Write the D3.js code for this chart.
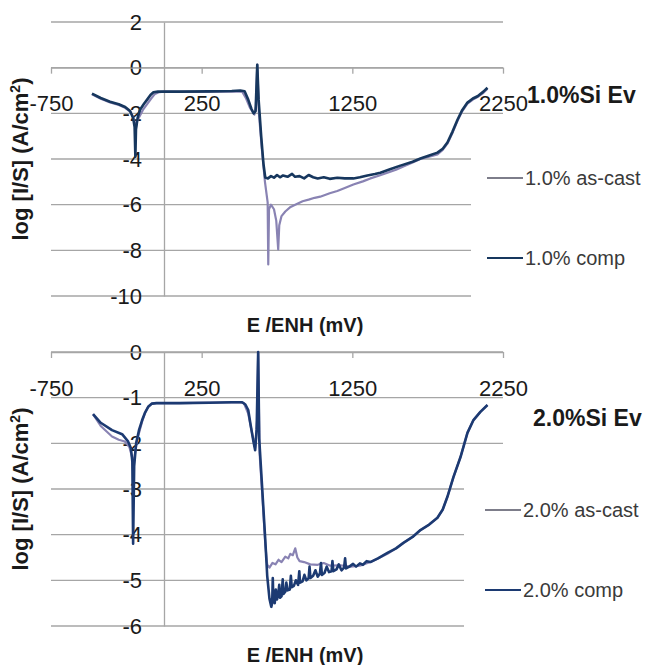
<!doctype html>
<html>
<head>
<meta charset="utf-8">
<style>
  body { margin: 0; background: #fff; }
  svg { font-family: "Liberation Sans", Arial, sans-serif; }
  .grid { stroke: #a6a6a6; stroke-width: 1.3; }
  .axis path, .axis line { stroke: #a6a6a6; stroke-width: 1.3; }
  .axis text { font-size: 22px; fill: #1a1a1a; }
</style>
<script src="https://d3js.org/d3.v7.min.js"></script>
</head>
<body>
<svg width="652" height="665"></svg>
<script>
// E (mV) vs log[I/S]
var xTicks = [-750, 250, 1250, 2250];
var yTicks10 = [2, 0, -2, -4, -6, -8, -10];
var yTicks20 = [0, -1, -2, -3, -4, -5, -6];

var cast10 = [[-478,-1.16],[-420,-1.36],[-358,-1.52],[-300,-1.63],[-258,-1.76],[-225,-1.92],[-205,-2.15],[-195,-2.4],[-188,-2.7],[-180,-2.35],[-160,-2.1],[-140,-1.85],[-112,-1.6],[-85,-1.35],[-60,-1.15],[-30,-1.07],[0,-1.05],[200,-1.06],[400,-1.05],[480,-1.04],[520,-1.06],[545,-1.35],[570,-1.75],[600,-2.05],[610,-1.7],[619,0.13],[630,-2.0],[650,-3.6],[670,-5.0],[688,-5.9],[692,-8.62],[697,-6.2],[710,-6.0],[730,-6.2],[745,-6.7],[758,-7.96],[765,-6.9],[780,-6.5],[805,-6.3],[840,-6.1],[871,-6.0],[920,-5.85],[960,-5.78],[1000,-5.7],[1037,-5.65],[1100,-5.5],[1150,-5.4],[1200,-5.27],[1257,-5.12],[1320,-4.98],[1370,-4.85],[1430,-4.72],[1483,-4.6],[1540,-4.47],[1600,-4.3],[1650,-4.15],[1702,-4.0],[1760,-3.9],[1815,-3.8],[1850,-3.6],[1881,-3.33],[1915,-2.85],[1948,-2.33],[1980,-1.9],[2014,-1.58],[2050,-1.4],[2081,-1.29],[2120,-1.1],[2147,-0.92]];

var comp10 = [[-478,-1.14],[-420,-1.33],[-358,-1.49],[-300,-1.6],[-258,-1.72],[-225,-1.9],[-205,-2.2],[-195,-2.6],[-190,-3.9],[-186,-2.7],[-175,-2.2],[-159,-1.84],[-135,-1.6],[-112,-1.4],[-90,-1.2],[-70,-1.08],[-40,-1.05],[100,-1.05],[300,-1.04],[450,-1.02],[506,-1.0],[535,-1.03],[559,-1.4],[580,-1.8],[595,-2.0],[608,-1.9],[619,0.13],[628,-1.4],[645,-3.0],[660,-4.2],[672,-4.81],[690,-4.85],[710,-4.75],[730,-4.82],[750,-4.7],[770,-4.8],[790,-4.72],[820,-4.78],[850,-4.65],[870,-4.78],[900,-4.75],[930,-4.85],[960,-4.7],[990,-4.8],[1020,-4.85],[1060,-4.8],[1100,-4.87],[1150,-4.82],[1200,-4.85],[1257,-4.85],[1300,-4.8],[1350,-4.72],[1400,-4.66],[1436,-4.6],[1500,-4.45],[1569,-4.29],[1650,-4.12],[1702,-3.98],[1760,-3.85],[1815,-3.72],[1850,-3.55],[1881,-3.28],[1915,-2.8],[1948,-2.28],[1980,-1.85],[2014,-1.53],[2050,-1.35],[2081,-1.25],[2120,-1.05],[2147,-0.88]];

var cast20 = [[-471,-1.36],[-420,-1.62],[-345,-1.85],[-300,-1.92],[-260,-1.96],[-230,-2.08],[-212,-2.3],[-206,-2.6],[-198,-2.35],[-180,-1.95],[-160,-1.7],[-145,-1.52],[-125,-1.33],[-105,-1.2],[-80,-1.13],[-50,-1.12],[100,-1.12],[300,-1.11],[500,-1.1],[530,-1.12],[559,-1.35],[592,-1.9],[605,-2.1],[618,-1.5],[625,-0.02],[634,-2.2],[652,-3.1],[672,-4.2],[685,-4.66],[700,-4.72],[720,-4.62],[740,-4.65],[760,-4.55],[780,-4.6],[805,-4.48],[825,-4.52],[838,-4.42],[855,-4.45],[871,-4.3],[885,-4.5],[900,-4.58],[930,-4.6],[971,-4.65],[1020,-4.66],[1060,-4.62],[1104,-4.68],[1170,-4.67],[1237,-4.7],[1300,-4.68],[1370,-4.6],[1420,-4.52],[1483,-4.42],[1540,-4.3],[1589,-4.18],[1650,-4.05],[1702,-3.9],[1760,-3.78],[1815,-3.63],[1850,-3.45],[1881,-3.17],[1921,-2.74],[1968,-2.3],[2014,-1.77],[2054,-1.49],[2100,-1.31],[2147,-1.16]];

var comp20 = [[-471,-1.36],[-420,-1.55],[-345,-1.71],[-278,-1.8],[-240,-1.95],[-220,-2.1],[-210,-2.4],[-205,-4.2],[-198,-2.5],[-185,-2.0],[-165,-1.7],[-145,-1.49],[-125,-1.32],[-105,-1.2],[-80,-1.13],[-50,-1.12],[100,-1.12],[300,-1.11],[450,-1.1],[519,-1.1],[540,-1.15],[559,-1.27],[575,-1.6],[592,-1.93],[605,-2.15],[615,-1.7],[625,0.0],[632,-1.9],[652,-3.0],[672,-4.1],[685,-4.9],[700,-5.4],[712,-5.58],[718,-5.5],[722,-4.95],[726,-5.45],[735,-5.5],[742,-5.2],[750,-5.42],[758,-5.3],[765,-5.1],[770,-5.38],[780,-5.35],[788,-4.98],[792,-5.3],[805,-5.25],[812,-5.05],[820,-5.22],[835,-5.2],[842,-4.9],[848,-5.15],[862,-5.12],[875,-5.0],[890,-5.1],[898,-4.8],[903,-5.05],[920,-5.02],[932,-4.88],[945,-5.0],[960,-4.95],[966,-4.7],[972,-4.95],[990,-4.9],[1005,-4.78],[1020,-4.92],[1035,-4.85],[1042,-4.62],[1048,-4.88],[1065,-4.84],[1080,-4.7],[1095,-4.82],[1112,-4.8],[1118,-4.58],[1124,-4.8],[1145,-4.76],[1160,-4.65],[1178,-4.78],[1195,-4.72],[1202,-4.52],[1208,-4.74],[1230,-4.7],[1255,-4.64],[1275,-4.7],[1300,-4.63],[1320,-4.66],[1345,-4.58],[1370,-4.6],[1420,-4.52],[1483,-4.4],[1540,-4.3],[1589,-4.18],[1650,-4.05],[1702,-3.9],[1760,-3.78],[1815,-3.63],[1850,-3.45],[1881,-3.17],[1921,-2.74],[1968,-2.3],[2014,-1.77],[2054,-1.49],[2100,-1.31],[2147,-1.16]];

var castColor = "#8983b3",
    compColor = "#17375e",
    compColor2 = "#1c3a72";

var svg = d3.select("svg");
var plain = function(d) { return String(d); };

function panel(p) {
    var x = d3.scaleLinear().domain([-750, 2250]).range([51, 503]);
    var y = d3.scaleLinear().domain(p.yDomain).range([p.bottom, p.top]);
    var g = svg.append("g");

    // horizontal gridlines (legend box hides the right end of the lower ones)
    g.selectAll(".grid").data(p.yTicks).enter().append("line")
        .attr("class", "grid")
        .attr("x1", x(-750)).attr("x2", x(2250))
        .attr("y1", function(d) { return y(d); })
        .attr("y2", function(d) { return y(d); });

    // legend box
    g.append("rect")
        .attr("x", p.legX).attr("y", p.legTop)
        .attr("width", 652 - p.legX).attr("height", p.bottom + 4 - p.legTop)
        .attr("fill", "#fff");

    // y axis at E = 0
    g.append("g")
        .attr("class", "axis")
        .attr("transform", "translate(" + x(0) + ",0)")
        .call(d3.axisLeft(y).tickValues(p.yTicks).tickFormat(plain)
            .tickSize(0).tickPadding(22).tickSizeOuter(0));

    // x axis at log = 0
    g.append("g")
        .attr("class", "axis")
        .attr("transform", "translate(0," + y(0) + ")")
        .call(d3.axisBottom(x).tickValues(xTicks).tickFormat(plain)
            .tickSize(6).tickPadding(22).tickSizeOuter(0));

    var line = d3.line()
        .x(function(d) { return x(d[0]); })
        .y(function(d) { return y(d[1]); });

    g.append("path").datum(p.cast)
        .attr("d", line).attr("fill", "none")
        .attr("stroke", castColor).attr("stroke-width", 2.2)
        .attr("stroke-linejoin", "round");
    g.append("path").datum(p.comp)
        .attr("d", line).attr("fill", "none")
        .attr("stroke", p.compColor).attr("stroke-width", 2.6)
        .attr("stroke-linejoin", "round");

    // axis titles
    g.append("text")
        .attr("transform", "translate(28," + ((p.top + p.bottom) / 2) + ") rotate(-90)")
        .attr("text-anchor", "middle")
        .style("font-size", "22px").style("font-weight", "bold").attr("fill", "#1a1a1a")
        .html("log [I/S] (A/cm<tspan dy='-8' font-size='14px'>2</tspan><tspan dy='8'>)</tspan>");

    g.append("text")
        .attr("x", 305).attr("y", p.bottom + 36)
        .attr("text-anchor", "middle")
        .style("font-size", "20px").style("font-weight", "bold").attr("fill", "#1a1a1a")
        .text("E /ENH (mV)");

    // legend
    g.append("text")
        .attr("x", p.titleX).attr("y", p.titleY + 8)
        .style("font-size", "23px").style("font-weight", "bold").attr("fill", "#1a1a1a")
        .text(p.title);

    var items = [{ name: p.names[0], color: "#7d7d8a", yy: p.legY[0] },
                 { name: p.names[1], color: p.compColor, yy: p.legY[1] }];
    items.forEach(function(it) {
        g.append("line")
            .attr("x1", p.legLineX).attr("x2", p.legLineX + 36)
            .attr("y1", it.yy).attr("y2", it.yy)
            .attr("stroke", it.color).attr("stroke-width", 2);
        g.append("text")
            .attr("x", p.legLineX + 38).attr("y", it.yy + 7)
            .style("font-size", "20px").attr("fill", "#3a3a3a")
            .text(it.name);
    });
}

panel({
    yDomain: [-10, 2], yTicks: yTicks10, top: 22, bottom: 296,
    cast: cast10, comp: comp10, compColor: compColor,
    legX: 471, legTop: 135, legLineX: 487, legY: [178, 258],
    title: "1.0%Si Ev", titleX: 527, titleY: 95,
    names: ["1.0% as-cast", "1.0% comp"]
});

panel({
    yDomain: [-6, 0], yTicks: yTicks20, top: 352, bottom: 626,
    cast: cast20, comp: comp20, compColor: compColor2,
    legX: 464, legTop: 466, legLineX: 485, legY: [510, 590],
    title: "2.0%Si Ev", titleX: 533, titleY: 418,
    names: ["2.0% as-cast", "2.0% comp"]
});
</script>
</body>
</html>
